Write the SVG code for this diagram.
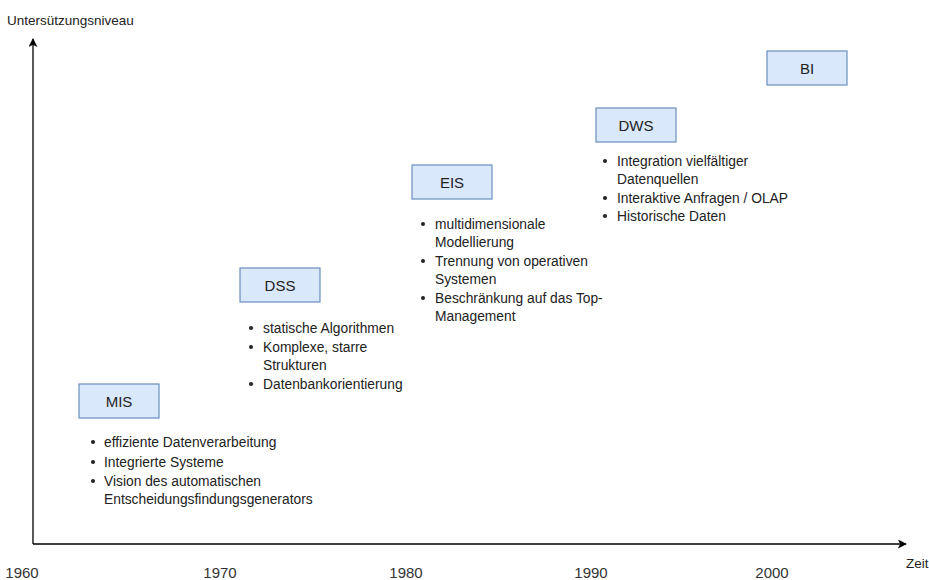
<svg xmlns="http://www.w3.org/2000/svg" width="929" height="580" viewBox="0 0 929 580">
  <style>
    text { font-family: "Liberation Sans", Arial, sans-serif; fill: #222; }
    .axis { stroke: #000; stroke-width: 1.3; fill: none; }
    .box { fill: #dae8fc; stroke: #6c8ebf; stroke-width: 1.2; }
    .label { font-size: 15px; text-anchor: middle; dominant-baseline: central; }
    .item { font-size: 13.8px; }
    .dot { fill: #222; }
    .year { font-size: 15px; text-anchor: middle; fill: #333; }
    .small { font-size: 13.5px; }
  </style>
  <defs>
    <marker id="arrow" viewBox="0 0 10 10" refX="9" refY="5" markerWidth="9" markerHeight="9" markerUnits="userSpaceOnUse" orient="auto">
      <path d="M0,0 L10,5 L0,10 L2.5,5 Z" fill="#000"/>
    </marker>
  </defs>

  <rect width="929" height="580" fill="#fff"/>

  <!-- axes -->
  <g id="connectors">
    <path class="axis" d="M33,544 L33,39" marker-end="url(#arrow)"/>
    <path class="axis" d="M33,544 L906,544" marker-end="url(#arrow)"/>
  </g>

  <!-- axis labels -->
  <text class="small" x="7" y="25">Untersützungsniveau</text>
  <text class="small" x="906" y="568">Zeit</text>
  <text class="year" x="22" y="578">1960</text>
  <text class="year" x="220" y="578">1970</text>
  <text class="year" x="406" y="578">1980</text>
  <text class="year" x="591" y="578">1990</text>
  <text class="year" x="772" y="578">2000</text>

  <!-- MIS -->
  <g id="mis">
    <rect class="box" x="79" y="384" width="80" height="34"/>
    <text class="label" x="119" y="401">MIS</text>
    <circle class="dot" cx="93" cy="442" r="2"/>
    <circle class="dot" cx="93" cy="462" r="2"/>
    <circle class="dot" cx="93" cy="481" r="2"/>
    <text class="item" x="104" y="447">effiziente Datenverarbeitung</text>
    <text class="item" x="104" y="467">Integrierte Systeme</text>
    <text class="item" x="104" y="486">Vision des automatischen</text>
    <text class="item" x="104" y="504">Entscheidungsfindungsgenerators</text>
  </g>

  <!-- DSS -->
  <g id="dss">
    <rect class="box" x="240" y="268" width="80" height="34"/>
    <text class="label" x="280" y="285">DSS</text>
    <circle class="dot" cx="251" cy="328" r="2"/>
    <circle class="dot" cx="251" cy="347" r="2"/>
    <circle class="dot" cx="251" cy="384" r="2"/>
    <text class="item" x="263" y="333">statische Algorithmen</text>
    <text class="item" x="263" y="352">Komplexe, starre</text>
    <text class="item" x="263" y="370">Strukturen</text>
    <text class="item" x="263" y="389">Datenbankorientierung</text>
  </g>

  <!-- EIS -->
  <g id="eis">
    <rect class="box" x="412" y="165" width="80" height="34"/>
    <text class="label" x="452" y="182">EIS</text>
    <circle class="dot" cx="423" cy="224" r="2"/>
    <circle class="dot" cx="423" cy="261" r="2"/>
    <circle class="dot" cx="423" cy="298" r="2"/>
    <text class="item" x="435" y="229">multidimensionale</text>
    <text class="item" x="435" y="247">Modellierung</text>
    <text class="item" x="435" y="266">Trennung von operativen</text>
    <text class="item" x="435" y="284">Systemen</text>
    <text class="item" x="435" y="303">Beschränkung auf das Top-</text>
    <text class="item" x="435" y="321">Management</text>
  </g>

  <!-- DWS -->
  <g id="dws">
    <rect class="box" x="596" y="108" width="80" height="34"/>
    <text class="label" x="636" y="125">DWS</text>
    <circle class="dot" cx="605" cy="161" r="2"/>
    <circle class="dot" cx="605" cy="198" r="2"/>
    <circle class="dot" cx="605" cy="216" r="2"/>
    <text class="item" x="617" y="166">Integration vielfältiger</text>
    <text class="item" x="617" y="184">Datenquellen</text>
    <text class="item" x="617" y="203">Interaktive Anfragen / OLAP</text>
    <text class="item" x="617" y="221">Historische Daten</text>
  </g>

  <!-- BI -->
  <g id="bi">
    <rect class="box" x="767" y="51" width="80" height="34"/>
    <text class="label" x="807" y="68">BI</text>
  </g>
</svg>
